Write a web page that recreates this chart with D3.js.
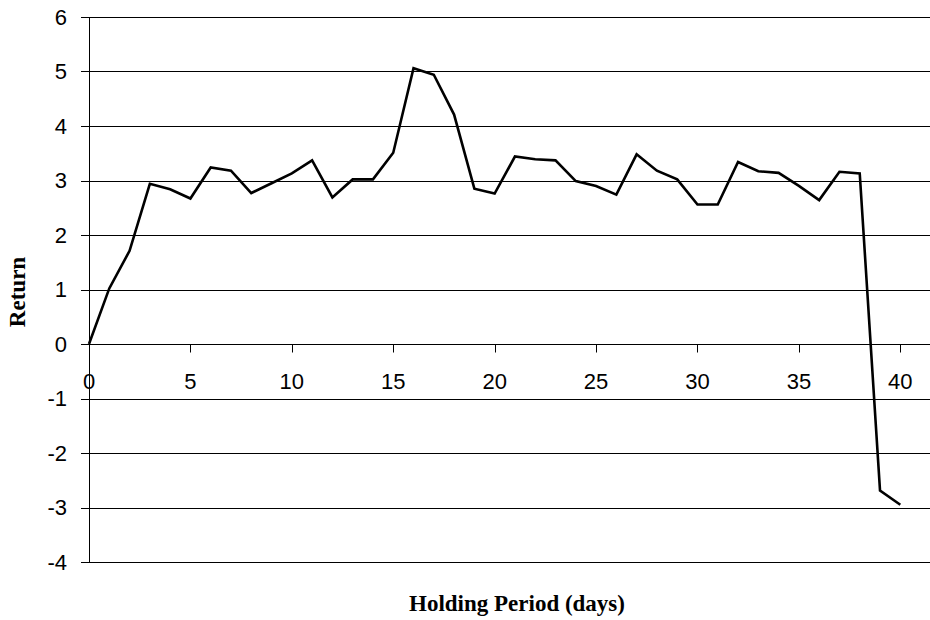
<!DOCTYPE html>
<html>
<head>
<meta charset="utf-8">
<script src="https://cdn.jsdelivr.net/npm/d3@7/dist/d3.min.js"></script>
<style>
  html, body { margin: 0; padding: 0; background: #fff; }
  svg { display: block; }
</style>
</head>
<body>
<svg id="chart" width="930" height="620"></svg>
<script>
// Data
const days = [0,1,2,3,4,5,6,7,8,9,10,11,12,13,14,15,16,17,18,19,20,21,22,23,24,25,26,27,28,29,30,31,32,33,34,35,36,37,38,39,40];
const returns = [0,1.02,1.71,2.94,2.84,2.67,3.24,3.18,2.77,2.95,3.13,3.37,2.69,3.02,3.02,3.51,5.06,4.94,4.21,2.85,2.76,3.44,3.39,3.37,2.99,2.90,2.74,3.48,3.18,3.02,2.56,2.56,3.34,3.17,3.14,2.90,2.64,3.16,3.13,-2.69,-2.95];
const xTicks = [0,5,10,15,20,25,30,35,40];
const yTicks = [-4,-3,-2,-1,0,1,2,3,4,5,6];
const xTitle = "Holding Period (days)";
const yTitle = "Return";

(function () {
const svg = d3.select("#chart");
const mLeft = 89, mTop = 17, mBottom = 562, rightEdge = 930;

const x = d3.scaleLinear().domain([0, 40]).range([mLeft, 900.3]);
const y = d3.scaleLinear().domain([-4, 6]).range([mBottom, mTop]);

// Horizontal gridlines (with outward tick on the left)
svg.append("g")
  .selectAll("line")
  .data(yTicks)
  .join("line")
  .attr("x1", mLeft - 8).attr("x2", rightEdge)
  .attr("y1", d => Math.round(y(d)) + 0.5).attr("y2", d => Math.round(y(d)) + 0.5)
  .attr("stroke", "#000").attr("stroke-width", 1);

// Y-axis line
svg.append("line")
  .attr("x1", mLeft + 0.5).attr("x2", mLeft + 0.5)
  .attr("y1", mTop).attr("y2", mBottom + 1)
  .attr("stroke", "#000").attr("stroke-width", 1);

// X tick marks on the zero line
const y0 = Math.round(y(0)) + 0.5;
svg.append("g")
  .selectAll("line")
  .data(xTicks)
  .join("line")
  .attr("x1", d => Math.round(x(d)) + 0.5).attr("x2", d => Math.round(x(d)) + 0.5)
  .attr("y1", y0).attr("y2", y0 + 8)
  .attr("stroke", "#000").attr("stroke-width", 1);

// Y tick labels
svg.append("g")
  .selectAll("text")
  .data(yTicks)
  .join("text")
  .attr("x", 67)
  .attr("y", d => y(d))
  .attr("dy", "0.36em")
  .attr("text-anchor", "end")
  .attr("font-family", "Liberation Sans, Arial, sans-serif")
  .attr("font-size", 22)
  .attr("fill", "#000")
  .text(d => d);

// X tick labels
svg.append("g")
  .selectAll("text")
  .data(xTicks)
  .join("text")
  .attr("x", d => x(d))
  .attr("y", y(0) + 37)
  .attr("dy", "0.36em")
  .attr("text-anchor", "middle")
  .attr("font-family", "Liberation Sans, Arial, sans-serif")
  .attr("font-size", 22)
  .attr("fill", "#000")
  .text(d => d);

// Line
const line = d3.line().x((d, i) => x(days[i])).y(d => y(d));
svg.append("path")
  .datum(returns)
  .attr("d", line)
  .attr("fill", "none")
  .attr("stroke", "#000")
  .attr("stroke-width", 2.6)
  .attr("stroke-linejoin", "miter");

// Axis titles
svg.append("text")
  .attr("x", 517).attr("y", 611)
  .attr("text-anchor", "middle")
  .attr("font-family", "Liberation Serif, 'Times New Roman', serif")
  .attr("font-weight", "bold")
  .attr("font-size", 23)
  .attr("fill", "#000")
  .text(xTitle);

svg.append("text")
  .attr("transform", "translate(25,292) rotate(-90)")
  .attr("text-anchor", "middle")
  .attr("font-family", "Liberation Serif, 'Times New Roman', serif")
  .attr("font-weight", "bold")
  .attr("font-size", 23)
  .attr("fill", "#000")
  .text(yTitle);
})();
</script>
</body>
</html>
